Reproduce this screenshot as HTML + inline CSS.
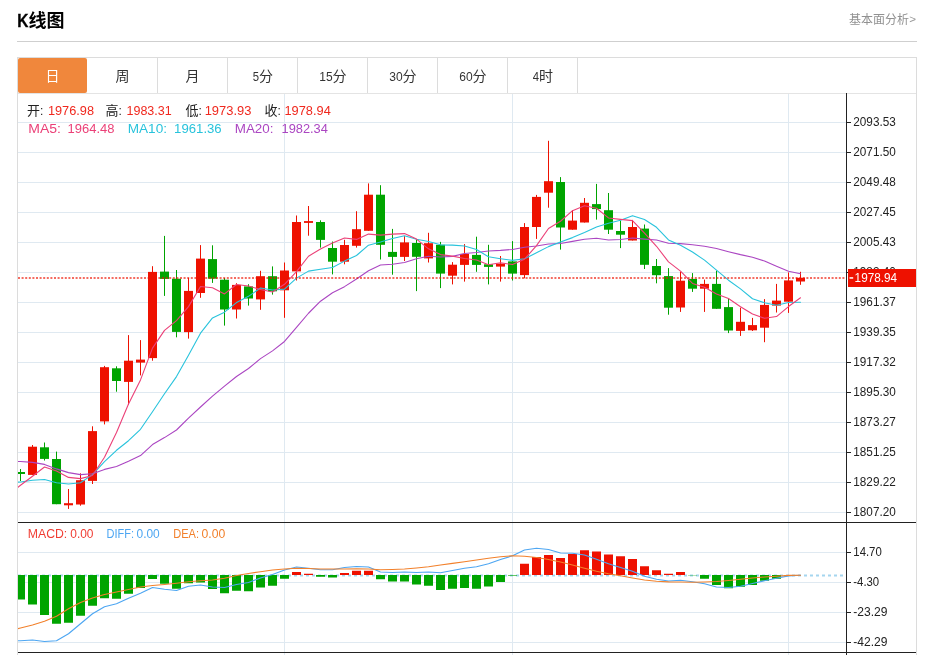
<!DOCTYPE html>
<html lang="zh"><head><meta charset="utf-8"><title>K线图</title>
<style>
html,body{margin:0;padding:0;background:#fff}
body{width:925px;height:655px;position:relative;overflow:hidden;font-family:"Liberation Sans",sans-serif}
.hr{position:absolute;left:17px;top:41px;width:900px;height:1px;background:#cfcfcf}
.box{position:absolute;left:17px;top:57px;width:898px;height:600px;border:1px solid #dcdcdc;border-bottom:0}
.tabs{position:absolute;left:18px;top:58px;width:898px;height:35px;border-bottom:1px solid #e4e4e4}
.tab{position:absolute;top:0;height:35px;width:69px;border-right:1px solid #dcdcdc}
.tab.on{background:#f0873c;border-right:0;width:69px;border-radius:2px}
svg{position:absolute;left:0;top:0;will-change:transform}
svg text{font-family:"Liberation Sans","Noto Sans CJK SC",sans-serif}
</style></head><body>
<div class="hr"></div>
<div class="box"></div>
<div class="tabs"><div class="tab on" style="left:0px"></div><div class="tab" style="left:70px"></div><div class="tab" style="left:140px"></div><div class="tab" style="left:210px"></div><div class="tab" style="left:280px"></div><div class="tab" style="left:350px"></div><div class="tab" style="left:420px"></div><div class="tab" style="left:490px"></div></div>
<svg width="925" height="655" viewBox="0 0 925 655">
<defs><clipPath id="cp"><rect x="18" y="94" width="828" height="558"/></clipPath></defs>
<g stroke="#dfe9f1" stroke-width="1" shape-rendering="crispEdges"><line x1="18" x2="846" y1="122.5" y2="122.5"/><line x1="18" x2="846" y1="152.5" y2="152.5"/><line x1="18" x2="846" y1="182.5" y2="182.5"/><line x1="18" x2="846" y1="212.5" y2="212.5"/><line x1="18" x2="846" y1="242.5" y2="242.5"/><line x1="18" x2="846" y1="272.5" y2="272.5"/><line x1="18" x2="846" y1="302.5" y2="302.5"/><line x1="18" x2="846" y1="332.5" y2="332.5"/><line x1="18" x2="846" y1="362.5" y2="362.5"/><line x1="18" x2="846" y1="392.5" y2="392.5"/><line x1="18" x2="846" y1="422.5" y2="422.5"/><line x1="18" x2="846" y1="452.5" y2="452.5"/><line x1="18" x2="846" y1="482.5" y2="482.5"/><line x1="18" x2="846" y1="512.5" y2="512.5"/><line x1="18" x2="846" y1="552.5" y2="552.5"/><line x1="18" x2="846" y1="582.5" y2="582.5"/><line x1="18" x2="846" y1="612.5" y2="612.5"/><line x1="18" x2="846" y1="642.5" y2="642.5"/><line x1="284.5" x2="284.5" y1="94" y2="655"/><line x1="512.5" x2="512.5" y1="94" y2="655"/><line x1="788.5" x2="788.5" y1="94" y2="655"/></g>
<line x1="18" x2="845" y1="575.4" y2="575.4" stroke="#a5d6ef" stroke-width="2" stroke-dasharray="3 3"/>
<g clip-path="url(#cp)">
<rect x="20" y="469" width="1" height="12" fill="#00a400"/>
<rect x="16" y="472" width="9" height="2" fill="#00a400"/>
<rect x="32" y="445" width="1" height="29.9" fill="#ee1100"/>
<rect x="28" y="446.7" width="9" height="28.2" fill="#ee1100"/>
<rect x="44" y="442.5" width="1" height="18" fill="#00a400"/>
<rect x="40" y="447.3" width="9" height="11.6" fill="#00a400"/>
<rect x="56" y="451.6" width="1" height="52.6" fill="#00a400"/>
<rect x="52" y="459" width="9" height="45.2" fill="#00a400"/>
<rect x="68" y="489" width="1" height="19.9" fill="#ee1100"/>
<rect x="64" y="503.2" width="9" height="2.1" fill="#ee1100"/>
<rect x="80" y="473.3" width="1" height="32.4" fill="#ee1100"/>
<rect x="76" y="480.2" width="9" height="24.3" fill="#ee1100"/>
<rect x="92" y="426.3" width="1" height="57.7" fill="#ee1100"/>
<rect x="88" y="431.1" width="9" height="49.8" fill="#ee1100"/>
<rect x="104" y="365.9" width="1" height="58.5" fill="#ee1100"/>
<rect x="100" y="367.2" width="9" height="54.2" fill="#ee1100"/>
<rect x="116" y="366.3" width="1" height="25.4" fill="#00a400"/>
<rect x="112" y="368.3" width="9" height="12.7" fill="#00a400"/>
<rect x="128" y="335.1" width="1" height="69.6" fill="#ee1100"/>
<rect x="124" y="360.7" width="9" height="21.2" fill="#ee1100"/>
<rect x="140" y="340.1" width="1" height="35.3" fill="#ee1100"/>
<rect x="136" y="359.6" width="9" height="3" fill="#ee1100"/>
<rect x="152" y="266.2" width="1" height="94.5" fill="#ee1100"/>
<rect x="148" y="271.9" width="9" height="86.2" fill="#ee1100"/>
<rect x="164" y="235.9" width="1" height="60" fill="#00a400"/>
<rect x="160" y="271.6" width="9" height="7.3" fill="#00a400"/>
<rect x="176" y="270" width="1" height="67.3" fill="#00a400"/>
<rect x="172" y="278.7" width="9" height="53.2" fill="#00a400"/>
<rect x="188" y="277.9" width="1" height="60.7" fill="#ee1100"/>
<rect x="184" y="290.9" width="9" height="41.2" fill="#ee1100"/>
<rect x="200" y="245.1" width="1" height="52.7" fill="#ee1100"/>
<rect x="196" y="258.6" width="9" height="34.4" fill="#ee1100"/>
<rect x="212" y="245.3" width="1" height="37.6" fill="#00a400"/>
<rect x="208" y="259.1" width="9" height="19.6" fill="#00a400"/>
<rect x="224" y="278" width="1" height="47.6" fill="#00a400"/>
<rect x="220" y="279.7" width="9" height="29.8" fill="#00a400"/>
<rect x="236" y="283.2" width="1" height="35.3" fill="#ee1100"/>
<rect x="232" y="284.9" width="9" height="24.6" fill="#ee1100"/>
<rect x="248" y="284.2" width="1" height="21.4" fill="#00a400"/>
<rect x="244" y="286.4" width="9" height="12.1" fill="#00a400"/>
<rect x="260" y="270.8" width="1" height="39" fill="#ee1100"/>
<rect x="256" y="276.2" width="9" height="23.2" fill="#ee1100"/>
<rect x="272" y="266.4" width="1" height="28.2" fill="#00a400"/>
<rect x="268" y="276.2" width="9" height="15.1" fill="#00a400"/>
<rect x="284" y="262.5" width="1" height="55.3" fill="#ee1100"/>
<rect x="280" y="270.5" width="9" height="19.8" fill="#ee1100"/>
<rect x="296" y="215.5" width="1" height="65" fill="#ee1100"/>
<rect x="292" y="222" width="9" height="49.4" fill="#ee1100"/>
<rect x="308" y="206" width="1" height="29.7" fill="#ee1100"/>
<rect x="304" y="221.1" width="9" height="1.8" fill="#ee1100"/>
<rect x="320" y="220.3" width="1" height="27.3" fill="#00a400"/>
<rect x="316" y="222" width="9" height="17.9" fill="#00a400"/>
<rect x="332" y="241.5" width="1" height="32.9" fill="#00a400"/>
<rect x="328" y="248" width="9" height="13.7" fill="#00a400"/>
<rect x="344" y="239.8" width="1" height="24.5" fill="#ee1100"/>
<rect x="340" y="245" width="9" height="16.7" fill="#ee1100"/>
<rect x="356" y="211.2" width="1" height="36.4" fill="#ee1100"/>
<rect x="352" y="229.2" width="9" height="16.6" fill="#ee1100"/>
<rect x="368" y="183.4" width="1" height="47.4" fill="#ee1100"/>
<rect x="364" y="194.7" width="9" height="36.1" fill="#ee1100"/>
<rect x="380" y="185.2" width="1" height="74.3" fill="#00a400"/>
<rect x="376" y="194.7" width="9" height="50.1" fill="#00a400"/>
<rect x="392" y="228.9" width="1" height="45.8" fill="#00a400"/>
<rect x="388" y="251.9" width="9" height="5" fill="#00a400"/>
<rect x="404" y="236.1" width="1" height="24.9" fill="#ee1100"/>
<rect x="400" y="242.4" width="9" height="14.5" fill="#ee1100"/>
<rect x="416" y="239.5" width="1" height="51.6" fill="#00a400"/>
<rect x="412" y="243" width="9" height="13.8" fill="#00a400"/>
<rect x="428" y="232.8" width="1" height="29.7" fill="#ee1100"/>
<rect x="424" y="243.2" width="9" height="15.2" fill="#ee1100"/>
<rect x="440" y="241.9" width="1" height="46.2" fill="#00a400"/>
<rect x="436" y="244.8" width="9" height="28.8" fill="#00a400"/>
<rect x="452" y="262.1" width="1" height="22.3" fill="#ee1100"/>
<rect x="448" y="264.7" width="9" height="11" fill="#ee1100"/>
<rect x="464" y="244.1" width="1" height="37.5" fill="#ee1100"/>
<rect x="460" y="253.9" width="9" height="11" fill="#ee1100"/>
<rect x="476" y="236.7" width="1" height="35.1" fill="#00a400"/>
<rect x="472" y="254.9" width="9" height="10" fill="#00a400"/>
<rect x="488" y="244.8" width="1" height="39.6" fill="#00a400"/>
<rect x="484" y="264.3" width="9" height="2.6" fill="#00a400"/>
<rect x="500" y="256" width="1" height="25.6" fill="#ee1100"/>
<rect x="496" y="263.6" width="9" height="3" fill="#ee1100"/>
<rect x="512" y="241.1" width="1" height="39.4" fill="#00a400"/>
<rect x="508" y="261.4" width="9" height="12.2" fill="#00a400"/>
<rect x="524" y="223.1" width="1" height="55.2" fill="#ee1100"/>
<rect x="520" y="227" width="9" height="48.1" fill="#ee1100"/>
<rect x="536" y="194.9" width="1" height="44" fill="#ee1100"/>
<rect x="532" y="196.9" width="9" height="30.1" fill="#ee1100"/>
<rect x="548" y="140.8" width="1" height="66.9" fill="#ee1100"/>
<rect x="544" y="181.2" width="9" height="11.5" fill="#ee1100"/>
<rect x="560" y="177.1" width="1" height="72.5" fill="#00a400"/>
<rect x="556" y="182" width="9" height="45.5" fill="#00a400"/>
<rect x="572" y="210.2" width="1" height="19.5" fill="#ee1100"/>
<rect x="568" y="220.6" width="9" height="9.1" fill="#ee1100"/>
<rect x="584" y="198" width="1" height="24.5" fill="#ee1100"/>
<rect x="580" y="202.8" width="9" height="19.7" fill="#ee1100"/>
<rect x="596" y="183.9" width="1" height="35.7" fill="#00a400"/>
<rect x="592" y="204.1" width="9" height="5" fill="#00a400"/>
<rect x="608" y="193" width="1" height="41" fill="#00a400"/>
<rect x="604" y="210.2" width="9" height="19.5" fill="#00a400"/>
<rect x="620" y="220.6" width="1" height="27.5" fill="#00a400"/>
<rect x="616" y="231" width="9" height="3.7" fill="#00a400"/>
<rect x="632" y="219.9" width="1" height="20.6" fill="#ee1100"/>
<rect x="628" y="227" width="9" height="13.5" fill="#ee1100"/>
<rect x="644" y="224.5" width="1" height="44.5" fill="#00a400"/>
<rect x="640" y="228.6" width="9" height="36.2" fill="#00a400"/>
<rect x="656" y="259" width="1" height="24.3" fill="#00a400"/>
<rect x="652" y="266" width="9" height="9.2" fill="#00a400"/>
<rect x="668" y="268.1" width="1" height="46.6" fill="#00a400"/>
<rect x="664" y="276.1" width="9" height="31.6" fill="#00a400"/>
<rect x="680" y="271.8" width="1" height="40.1" fill="#ee1100"/>
<rect x="676" y="280.7" width="9" height="26.8" fill="#ee1100"/>
<rect x="692" y="273.1" width="1" height="18.8" fill="#00a400"/>
<rect x="688" y="278.9" width="9" height="9.8" fill="#00a400"/>
<rect x="704" y="279.6" width="1" height="32.3" fill="#ee1100"/>
<rect x="700" y="283.9" width="9" height="4.8" fill="#ee1100"/>
<rect x="716" y="270.7" width="1" height="38.1" fill="#00a400"/>
<rect x="712" y="283.9" width="9" height="24.9" fill="#00a400"/>
<rect x="728" y="298" width="1" height="35.1" fill="#00a400"/>
<rect x="724" y="307.1" width="9" height="23.4" fill="#00a400"/>
<rect x="740" y="307.7" width="1" height="28.2" fill="#ee1100"/>
<rect x="736" y="321.8" width="9" height="9.1" fill="#ee1100"/>
<rect x="752" y="317.9" width="1" height="13.1" fill="#ee1100"/>
<rect x="748" y="325.1" width="9" height="5.2" fill="#ee1100"/>
<rect x="764" y="299.1" width="1" height="43.1" fill="#ee1100"/>
<rect x="760" y="304.9" width="9" height="22.8" fill="#ee1100"/>
<rect x="776" y="283.9" width="1" height="28.6" fill="#ee1100"/>
<rect x="772" y="300.6" width="9" height="5" fill="#ee1100"/>
<rect x="788" y="272.4" width="1" height="40.5" fill="#ee1100"/>
<rect x="784" y="280.4" width="9" height="21.3" fill="#ee1100"/>
<rect x="800" y="271.8" width="1" height="13" fill="#ee1100"/>
<rect x="796" y="277.8" width="9" height="3.7" fill="#ee1100"/>
<rect x="16" y="575" width="9" height="24.5" fill="#00a400"/>
<rect x="28" y="575" width="9" height="29.5" fill="#00a400"/>
<rect x="40" y="575" width="9" height="40" fill="#00a400"/>
<rect x="52" y="575" width="9" height="48.75" fill="#00a400"/>
<rect x="64" y="575" width="9" height="47.75" fill="#00a400"/>
<rect x="76" y="575" width="9" height="40.75" fill="#00a400"/>
<rect x="88" y="575" width="9" height="30.75" fill="#00a400"/>
<rect x="100" y="575" width="9" height="23.25" fill="#00a400"/>
<rect x="112" y="575" width="9" height="23.75" fill="#00a400"/>
<rect x="124" y="575" width="9" height="18.75" fill="#00a400"/>
<rect x="136" y="575" width="9" height="13" fill="#00a400"/>
<rect x="148" y="575" width="9" height="4" fill="#00a400"/>
<rect x="160" y="575" width="9" height="8.75" fill="#00a400"/>
<rect x="172" y="575" width="9" height="13.75" fill="#00a400"/>
<rect x="184" y="575" width="9" height="8.25" fill="#00a400"/>
<rect x="196" y="575" width="9" height="7.5" fill="#00a400"/>
<rect x="208" y="575" width="9" height="14" fill="#00a400"/>
<rect x="220" y="575" width="9" height="18.25" fill="#00a400"/>
<rect x="232" y="575" width="9" height="15.75" fill="#00a400"/>
<rect x="244" y="575" width="9" height="16.25" fill="#00a400"/>
<rect x="256" y="575" width="9" height="12.5" fill="#00a400"/>
<rect x="268" y="575" width="9" height="10.75" fill="#00a400"/>
<rect x="280" y="575" width="9" height="3.75" fill="#00a400"/>
<rect x="292" y="572" width="9" height="3" fill="#ee1100"/>
<rect x="304" y="573.75" width="9" height="1.25" fill="#ee1100"/>
<rect x="316" y="575" width="9" height="1.75" fill="#00a400"/>
<rect x="328" y="575" width="9" height="2.5" fill="#00a400"/>
<rect x="340" y="573" width="9" height="2" fill="#ee1100"/>
<rect x="352" y="570.75" width="9" height="4.25" fill="#ee1100"/>
<rect x="364" y="570.75" width="9" height="4.25" fill="#ee1100"/>
<rect x="376" y="575" width="9" height="4.25" fill="#00a400"/>
<rect x="388" y="575" width="9" height="6.5" fill="#00a400"/>
<rect x="400" y="575" width="9" height="6.5" fill="#00a400"/>
<rect x="412" y="575" width="9" height="9.5" fill="#00a400"/>
<rect x="424" y="575" width="9" height="10.75" fill="#00a400"/>
<rect x="436" y="575" width="9" height="15" fill="#00a400"/>
<rect x="448" y="575" width="9" height="13.75" fill="#00a400"/>
<rect x="460" y="575" width="9" height="13" fill="#00a400"/>
<rect x="472" y="575" width="9" height="13.75" fill="#00a400"/>
<rect x="484" y="575" width="9" height="11.5" fill="#00a400"/>
<rect x="496" y="575" width="9" height="7" fill="#00a400"/>
<rect x="508" y="575" width="9" height="0.6" fill="#00a400"/>
<rect x="520" y="563.75" width="9" height="11.25" fill="#ee1100"/>
<rect x="532" y="557" width="9" height="18" fill="#ee1100"/>
<rect x="544" y="555" width="9" height="20" fill="#ee1100"/>
<rect x="556" y="558" width="9" height="17" fill="#ee1100"/>
<rect x="568" y="554" width="9" height="21" fill="#ee1100"/>
<rect x="580" y="550.25" width="9" height="24.75" fill="#ee1100"/>
<rect x="592" y="551.5" width="9" height="23.5" fill="#ee1100"/>
<rect x="604" y="554.5" width="9" height="20.5" fill="#ee1100"/>
<rect x="616" y="556.25" width="9" height="18.75" fill="#ee1100"/>
<rect x="628" y="559" width="9" height="16" fill="#ee1100"/>
<rect x="640" y="566.25" width="9" height="8.75" fill="#ee1100"/>
<rect x="652" y="570.25" width="9" height="4.75" fill="#ee1100"/>
<rect x="664" y="573.75" width="9" height="1.25" fill="#ee1100"/>
<rect x="676" y="572" width="9" height="3" fill="#ee1100"/>
<rect x="688" y="575" width="9" height="0.3" fill="#00a400"/>
<rect x="700" y="575" width="9" height="3.75" fill="#00a400"/>
<rect x="712" y="575" width="9" height="10" fill="#00a400"/>
<rect x="724" y="575" width="9" height="13.25" fill="#00a400"/>
<rect x="736" y="575" width="9" height="11.75" fill="#00a400"/>
<rect x="748" y="575" width="9" height="10" fill="#00a400"/>
<rect x="760" y="575" width="9" height="5.75" fill="#00a400"/>
<rect x="772" y="575" width="9" height="3.75" fill="#00a400"/>
<rect x="784" y="575" width="9" height="0.5" fill="#00a400"/>
<polyline fill="none" stroke="#ab46c2" stroke-width="1.1" stroke-linejoin="round" stroke-linecap="round" points="8.5,461.2 20.5,461.5 32.5,462.4 44.5,464.4 56.5,468.9 68.5,472.6 80.5,474.6 92.5,473.8 104.5,469.4 116.5,466.5 128.5,461.3 140.5,455.6 152.5,444.6 164.5,437.6 176.5,430 188.5,418.1 200.5,407 212.5,396.2 224.5,386.2 236.5,376.5 248.5,368.53 260.5,358.64 272.5,350.87 284.5,341.45 296.5,327.34 308.5,313.24 320.5,301.22 332.5,292.75 344.5,286.64 356.5,279.05 368.5,270.75 380.5,265.01 392.5,264.26 404.5,262.44 416.5,258.68 428.5,256.29 440.5,257.04 452.5,256.34 464.5,253.56 476.5,252.56 488.5,250.98 500.5,250.36 512.5,249.47 524.5,247.29 536.5,246.04 548.5,244.04 560.5,243.43 572.5,241.37 584.5,239.26 596.5,238.26 608.5,240.01 620.5,239.5 632.5,238.01 644.5,239.12 656.5,240.04 668.5,243.27 680.5,243.62 692.5,244.82 704.5,246.32 716.5,248.52 728.5,251.7 740.5,254.61 752.5,257.19 764.5,261.08 776.5,266.26 788.5,271.23 800.5,273.74"/>
<polyline fill="none" stroke="#28c3dc" stroke-width="1.1" stroke-linejoin="round" stroke-linecap="round" points="8.5,482.5 20.5,482 32.5,480.3 44.5,479.5 56.5,482.7 68.5,484 80.5,482.7 92.5,474.6 104.5,461.6 116.5,450.3 128.5,440.72 140.5,429.28 152.5,411.8 164.5,393.8 176.5,376.57 188.5,355.34 200.5,333.18 212.5,317.94 224.5,312.17 236.5,302.56 248.5,296.34 260.5,288 272.5,289.94 284.5,289.1 296.5,278.11 308.5,271.13 320.5,269.26 332.5,267.56 344.5,261.11 356.5,255.54 368.5,245.16 380.5,242.02 392.5,238.58 404.5,235.77 416.5,239.25 428.5,241.46 440.5,244.83 452.5,245.13 464.5,246.02 476.5,249.59 488.5,256.81 500.5,258.69 512.5,260.36 524.5,258.82 536.5,252.83 548.5,246.63 560.5,242.02 572.5,237.61 584.5,232.5 596.5,226.92 608.5,223.2 620.5,220.31 632.5,215.65 644.5,219.43 656.5,227.26 668.5,239.91 680.5,245.23 692.5,252.04 704.5,260.15 716.5,270.12 728.5,280.2 740.5,288.91 752.5,298.72 764.5,302.73 776.5,305.27 788.5,302.54 800.5,302.25"/>
<polyline fill="none" stroke="#eb4178" stroke-width="1.1" stroke-linejoin="round" stroke-linecap="round" points="8.5,494.4 20.5,485.3 32.5,476.2 44.5,467 56.5,470.9 68.5,477.4 80.5,478.64 92.5,475.52 104.5,457.18 116.5,432.54 128.5,404.04 140.5,379.92 152.5,348.08 164.5,330.42 176.5,320.6 188.5,306.64 200.5,286.44 212.5,287.8 224.5,293.92 236.5,284.52 248.5,286.04 260.5,289.56 272.5,292.08 284.5,284.28 296.5,271.7 308.5,256.22 320.5,248.96 332.5,243.04 344.5,237.94 356.5,239.38 368.5,234.1 380.5,235.08 392.5,234.12 404.5,233.6 416.5,239.12 428.5,248.82 440.5,254.58 452.5,256.14 464.5,258.44 476.5,260.06 488.5,264.8 500.5,262.8 512.5,264.58 524.5,259.2 536.5,245.6 548.5,228.46 560.5,221.24 572.5,210.64 584.5,205.8 596.5,208.24 608.5,217.94 620.5,219.38 632.5,220.66 644.5,233.06 656.5,246.28 668.5,261.88 680.5,271.08 692.5,283.42 704.5,287.24 716.5,293.96 728.5,298.52 740.5,306.74 752.5,314.02 764.5,318.22 776.5,316.58 788.5,306.56 800.5,297.76"/>
<polyline fill="none" stroke="#4da6f2" stroke-width="1.15" stroke-linejoin="round" stroke-linecap="round" points="17.5,640.75 20.5,640.7 32.5,640 44.5,641.5 56.5,640.75 68.5,633.75 80.5,623.75 92.5,613.75 104.5,606.75 116.5,603.75 128.5,598.25 140.5,593.25 152.5,587.5 164.5,589.25 176.5,590.5 188.5,586.25 200.5,585 212.5,587 224.5,587.5 236.5,584.5 248.5,582.5 260.5,578 272.5,574.5 284.5,570 296.5,567 308.5,568.25 320.5,569.75 332.5,569.75 344.5,567.5 356.5,566.5 368.5,567 380.5,572 392.5,572.5 404.5,572 416.5,572.5 428.5,572 440.5,572.75 452.5,570.5 464.5,568.25 476.5,566.75 488.5,563.75 500.5,559.5 512.5,555.75 524.5,550 536.5,548.25 548.5,549.5 560.5,553 572.5,553.25 584.5,555 596.5,559.25 608.5,563.75 620.5,567.5 632.5,571.25 644.5,576.25 656.5,579.25 668.5,581 680.5,580.25 692.5,581.75 704.5,583.75 716.5,587 728.5,587.5 740.5,586.25 752.5,583.5 764.5,580.75 776.5,578.25 788.5,575.9 800.5,575.3"/>
<polyline fill="none" stroke="#f2802b" stroke-width="1.15" stroke-linejoin="round" stroke-linecap="round" points="17.5,628.75 20.5,628 32.5,625 44.5,621.25 56.5,616.25 68.5,608.75 80.5,602.5 92.5,598 104.5,594.5 116.5,592 128.5,589.5 140.5,587 152.5,585.5 164.5,584.5 176.5,583.25 188.5,581.75 200.5,580.75 212.5,580 224.5,578.25 236.5,575.5 248.5,573.5 260.5,571.75 272.5,570 284.5,569 296.5,568.25 308.5,568.5 320.5,569 332.5,569 344.5,569 356.5,568.75 368.5,569 380.5,569.75 392.5,569.5 404.5,569 416.5,568 428.5,566.75 440.5,565 452.5,563.4 464.5,561.75 476.5,560 488.5,558.25 500.5,556.75 512.5,555.75 524.5,556.25 536.5,557.5 548.5,559.5 560.5,562 572.5,565 584.5,568.25 596.5,571.25 608.5,573.75 620.5,575.75 632.5,578 644.5,580 656.5,581.25 668.5,581.9 680.5,582 692.5,582.25 704.5,582 716.5,581.5 728.5,580.5 740.5,579.25 752.5,578 764.5,577 776.5,576.25 788.5,575.4 800.5,575.3"/>
</g>
<line x1="18" x2="846" y1="278" y2="278" stroke="#ee1100" stroke-opacity="0.62" stroke-width="2" stroke-dasharray="2 1.6"/>
<g stroke="#222" stroke-width="1" shape-rendering="crispEdges"><line x1="846.5" x2="846.5" y1="93" y2="655"/><line x1="18" x2="916" y1="522.5" y2="522.5"/><line x1="18" x2="916" y1="652.5" y2="652.5"/>
<line x1="847" x2="851" y1="122.5" y2="122.5"/>
<line x1="847" x2="851" y1="152.5" y2="152.5"/>
<line x1="847" x2="851" y1="182.5" y2="182.5"/>
<line x1="847" x2="851" y1="212.5" y2="212.5"/>
<line x1="847" x2="851" y1="242.5" y2="242.5"/>
<line x1="847" x2="851" y1="272.5" y2="272.5"/>
<line x1="847" x2="851" y1="302.5" y2="302.5"/>
<line x1="847" x2="851" y1="332.5" y2="332.5"/>
<line x1="847" x2="851" y1="362.5" y2="362.5"/>
<line x1="847" x2="851" y1="392.5" y2="392.5"/>
<line x1="847" x2="851" y1="422.5" y2="422.5"/>
<line x1="847" x2="851" y1="452.5" y2="452.5"/>
<line x1="847" x2="851" y1="482.5" y2="482.5"/>
<line x1="847" x2="851" y1="512.5" y2="512.5"/>
<line x1="847" x2="851" y1="552.5" y2="552.5"/>
<line x1="847" x2="851" y1="582.5" y2="582.5"/>
<line x1="847" x2="851" y1="612.5" y2="612.5"/>
<line x1="847" x2="851" y1="642.5" y2="642.5"/>
</g>
<text x="853.3" y="126.1" font-size="12.4" fill="#222" textLength="42.5" lengthAdjust="spacingAndGlyphs">2093.53</text>
<text x="853.3" y="156.1" font-size="12.4" fill="#222" textLength="42.5" lengthAdjust="spacingAndGlyphs">2071.50</text>
<text x="853.3" y="186.1" font-size="12.4" fill="#222" textLength="42.5" lengthAdjust="spacingAndGlyphs">2049.48</text>
<text x="853.3" y="216.1" font-size="12.4" fill="#222" textLength="42.5" lengthAdjust="spacingAndGlyphs">2027.45</text>
<text x="853.3" y="246.1" font-size="12.4" fill="#222" textLength="42.5" lengthAdjust="spacingAndGlyphs">2005.43</text>
<text x="853.3" y="276.1" font-size="12.4" fill="#222" textLength="42.5" lengthAdjust="spacingAndGlyphs">1983.40</text>
<text x="853.3" y="306.1" font-size="12.4" fill="#222" textLength="42.5" lengthAdjust="spacingAndGlyphs">1961.37</text>
<text x="853.3" y="336.1" font-size="12.4" fill="#222" textLength="42.5" lengthAdjust="spacingAndGlyphs">1939.35</text>
<text x="853.3" y="366.1" font-size="12.4" fill="#222" textLength="42.5" lengthAdjust="spacingAndGlyphs">1917.32</text>
<text x="853.3" y="396.1" font-size="12.4" fill="#222" textLength="42.5" lengthAdjust="spacingAndGlyphs">1895.30</text>
<text x="853.3" y="426.1" font-size="12.4" fill="#222" textLength="42.5" lengthAdjust="spacingAndGlyphs">1873.27</text>
<text x="853.3" y="456.1" font-size="12.4" fill="#222" textLength="42.5" lengthAdjust="spacingAndGlyphs">1851.25</text>
<text x="853.3" y="486.1" font-size="12.4" fill="#222" textLength="42.5" lengthAdjust="spacingAndGlyphs">1829.22</text>
<text x="853.3" y="516.1" font-size="12.4" fill="#222" textLength="42.5" lengthAdjust="spacingAndGlyphs">1807.20</text>
<text x="853.3" y="556.1" font-size="12.4" fill="#222" textLength="28.5" lengthAdjust="spacingAndGlyphs">14.70</text>
<text x="853.3" y="586.1" font-size="12.4" fill="#222" textLength="25.9" lengthAdjust="spacingAndGlyphs">-4.30</text>
<text x="853.3" y="616.1" font-size="12.4" fill="#222" textLength="34.2" lengthAdjust="spacingAndGlyphs">-23.29</text>
<text x="853.3" y="646.1" font-size="12.4" fill="#222" textLength="34.2" lengthAdjust="spacingAndGlyphs">-42.29</text>
<rect x="848" y="269" width="68" height="18" fill="#ee1100"/>
<rect x="849.5" y="277.2" width="3.7" height="1.5" fill="#fff"/>
<text x="854.6" y="281.9" font-size="12.4" fill="#fff" textLength="42.5" lengthAdjust="spacingAndGlyphs">1978.94</text>
<text x="27" y="114.6" font-size="13" fill="#222">开</text>
<text x="40" y="114.6" font-size="12" fill="#222">:</text>
<text x="47.9" y="114.8" font-size="12.5" fill="#f0281e" textLength="46.1" lengthAdjust="spacingAndGlyphs">1976.98</text>
<text x="105.6" y="114.6" font-size="13" fill="#222">高</text>
<text x="118.6" y="114.6" font-size="12" fill="#222">:</text>
<text x="126.5" y="114.8" font-size="12.5" fill="#f0281e" textLength="45.2" lengthAdjust="spacingAndGlyphs">1983.31</text>
<text x="185.4" y="114.6" font-size="13" fill="#222">低</text>
<text x="198.4" y="114.6" font-size="12" fill="#222">:</text>
<text x="204.7" y="114.8" font-size="12.5" fill="#f0281e" textLength="46.7" lengthAdjust="spacingAndGlyphs">1973.93</text>
<text x="264.4" y="114.6" font-size="13" fill="#222">收</text>
<text x="277.4" y="114.6" font-size="12" fill="#222">:</text>
<text x="284.5" y="114.8" font-size="12.5" fill="#f0281e" textLength="46.3" lengthAdjust="spacingAndGlyphs">1978.94</text>
<text x="28.3" y="132.5" font-size="12" fill="#eb4178" textLength="32.7" lengthAdjust="spacingAndGlyphs">MA5:</text>
<text x="67.6" y="132.5" font-size="12" fill="#eb4178" textLength="46.9" lengthAdjust="spacingAndGlyphs">1964.48</text>
<text x="127.7" y="132.5" font-size="12" fill="#28c3dc" textLength="39.3" lengthAdjust="spacingAndGlyphs">MA10:</text>
<text x="174.1" y="132.5" font-size="12" fill="#28c3dc" textLength="47.6" lengthAdjust="spacingAndGlyphs">1961.36</text>
<text x="234.75" y="132.5" font-size="12" fill="#ab46c2" textLength="38.75" lengthAdjust="spacingAndGlyphs">MA20:</text>
<text x="281.5" y="132.5" font-size="12" fill="#ab46c2" textLength="46.4" lengthAdjust="spacingAndGlyphs">1982.34</text>
<text x="27.75" y="537.6" font-size="12" fill="#f03c32" textLength="39.5" lengthAdjust="spacingAndGlyphs">MACD:</text>
<text x="70.25" y="537.6" font-size="12" fill="#f03c32" textLength="23.25" lengthAdjust="spacingAndGlyphs">0.00</text>
<text x="106.5" y="537.6" font-size="12" fill="#4da6f2" textLength="27.5" lengthAdjust="spacingAndGlyphs">DIFF:</text>
<text x="136.5" y="537.6" font-size="12" fill="#4da6f2" textLength="23.25" lengthAdjust="spacingAndGlyphs">0.00</text>
<text x="173.25" y="537.6" font-size="12" fill="#f2802b" textLength="25.75" lengthAdjust="spacingAndGlyphs">DEA:</text>
<text x="201.5" y="537.6" font-size="12" fill="#f2802b" textLength="23.75" lengthAdjust="spacingAndGlyphs">0.00</text>
<text x="17.3" y="26.7" font-size="18.8" font-weight="bold" fill="#000" stroke="#000" stroke-width="0.35" textLength="11.2" lengthAdjust="spacingAndGlyphs">K</text>
<text x="28.5" y="26.9" font-size="18" font-weight="bold" fill="#000" textLength="36" lengthAdjust="spacingAndGlyphs">线图</text>
<text x="849.1" y="24.1" font-size="12" fill="#919191" textLength="60" lengthAdjust="spacingAndGlyphs">基本面分析</text>
<text x="909.3" y="22.9" font-size="10.5" fill="#999" textLength="6.8" lengthAdjust="spacingAndGlyphs">&gt;</text>
<text x="45.5" y="80.9" font-size="14" fill="#fff">日</text>
<text x="115.5" y="80.9" font-size="14" fill="#333">周</text>
<text x="185.5" y="80.9" font-size="14" fill="#333">月</text>
<text x="252.75" y="80.8" font-size="13" fill="#333" textLength="6.3" lengthAdjust="spacingAndGlyphs">5</text><text x="259.05" y="80.9" font-size="14" fill="#333">分</text>
<text x="319.2" y="80.8" font-size="13" fill="#333" textLength="13.4" lengthAdjust="spacingAndGlyphs">15</text><text x="332.6" y="80.9" font-size="14" fill="#333">分</text>
<text x="389.2" y="80.8" font-size="13" fill="#333" textLength="13.4" lengthAdjust="spacingAndGlyphs">30</text><text x="402.6" y="80.9" font-size="14" fill="#333">分</text>
<text x="459.2" y="80.8" font-size="13" fill="#333" textLength="13.4" lengthAdjust="spacingAndGlyphs">60</text><text x="472.6" y="80.9" font-size="14" fill="#333">分</text>
<text x="532.75" y="80.8" font-size="13" fill="#333" textLength="6.3" lengthAdjust="spacingAndGlyphs">4</text><text x="539.05" y="80.9" font-size="14" fill="#333">时</text>
</svg>
</body></html>
